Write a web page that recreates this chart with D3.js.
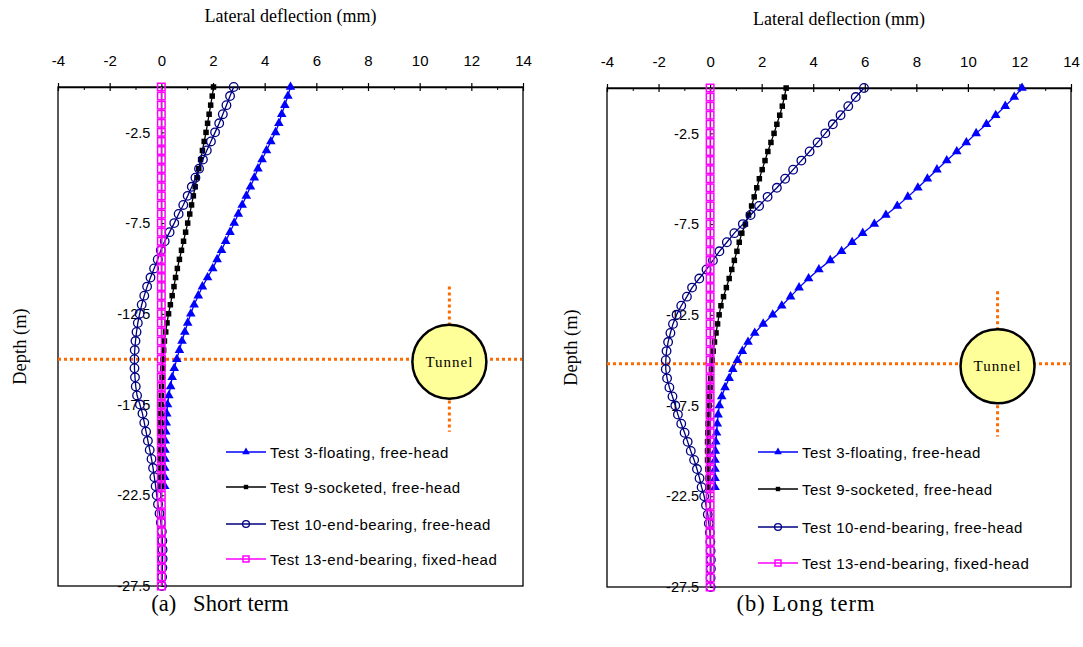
<!DOCTYPE html>
<html>
<head>
<meta charset="utf-8">
<script src="https://cdn.jsdelivr.net/npm/d3@7/dist/d3.min.js"></script>
<style>
  body { margin: 0; background: #fff; }
  svg { display: block; }
</style>
</head>
<body>
<svg id="chart" width="1083" height="647"></svg>
<script>
// depth of each reading (m), every 0.5 m down the pile
const depths = [0, -0.5, -1, -1.5, -2, -2.5, -3, -3.5, -4, -4.5, -5, -5.5, -6, -6.5, -7, -7.5,
  -8, -8.5, -9, -9.5, -10, -10.5, -11, -11.5, -12, -12.5, -13, -13.5, -14, -14.5, -15, -15.5,
  -16, -16.5, -17, -17.5, -18, -18.5, -19, -19.5, -20, -20.5, -21, -21.5, -22, -22.5, -23, -23.5,
  -24, -24.5, -25, -25.5, -26, -26.5, -27, -27.5];

const xTicks = [-4, -2, 0, 2, 4, 6, 8, 10, 12, 14];
const xMinorTicks = [-3, -1, 1, 3, 5, 7, 9, 11, 13];
const yTicks = [-2.5, -7.5, -12.5, -17.5, -22.5, -27.5];

const seriesNames = [
  "Test 3-floating, free-head",
  "Test 9-socketed, free-head",
  "Test 10-end-bearing, free-head",
  "Test 13-end-bearing, fixed-head"
];

// (a) short term, lateral deflection (mm)
const shortTest3 = [5.00, 4.90, 4.78, 4.66, 4.55, 4.42, 4.24, 4.07, 3.90, 3.74,
  3.60, 3.45, 3.29, 3.13, 2.98, 2.82, 2.66, 2.49, 2.33, 2.16,
  1.99, 1.79, 1.59, 1.43, 1.27, 1.14, 1.02, 0.91, 0.80, 0.70,
  0.60, 0.50, 0.42, 0.36, 0.29, 0.24, 0.21, 0.19, 0.17, 0.15,
  0.14, 0.14, 0.13, 0.13, 0.13];
const shortTest9 = [2.02, 1.97, 1.91, 1.85, 1.79, 1.73, 1.66, 1.59, 1.52, 1.45,
  1.38, 1.31, 1.24, 1.17, 1.10, 1.02, 0.94, 0.86, 0.78, 0.70,
  0.62, 0.55, 0.49, 0.42, 0.35, 0.28, 0.22, 0.17, 0.12, 0.09,
  0.07, 0.05, 0.03, 0.01, 0.00, -0.01, -0.02, -0.02, -0.03, -0.03,
  -0.03, -0.03, -0.02, -0.02, -0.02];
const shortTest10 = [2.80, 2.66, 2.52, 2.38, 2.24, 2.08, 1.92, 1.76, 1.61, 1.46,
  1.32, 1.18, 1.02, 0.85, 0.67, 0.50, 0.32, 0.13, -0.02, -0.14,
  -0.28, -0.42, -0.55, -0.66, -0.76, -0.84, -0.91, -0.96, -1.00, -1.03,
  -1.04, -1.04, -1.02, -0.99, -0.94, -0.83, -0.73, -0.66, -0.59, -0.52,
  -0.45, -0.38, -0.32, -0.27, -0.22, -0.18, -0.13, -0.07, -0.02, 0.02,
  0.04, 0.05, 0.05, 0.04, 0.03, 0.02];
const shortTest13 = [0, 0, 0, 0, 0, 0, 0, 0, 0, 0, 0, 0, 0, 0, 0, 0, 0, 0, 0, 0,
  0, 0, 0, 0, 0, 0, 0, 0, 0, 0, 0, 0, 0, 0, 0, 0, 0, 0, 0, 0,
  0, 0, 0, 0, 0, 0, 0, 0, 0, 0, 0, 0, 0, 0, 0, 0];

// (b) long term
const longTest3 = [12.10, 11.80, 11.45, 11.08, 10.72, 10.32, 9.94, 9.57, 9.18, 8.80,
  8.43, 8.06, 7.67, 7.26, 6.82, 6.37, 5.92, 5.51, 5.10, 4.66,
  4.22, 3.82, 3.45, 3.12, 2.78, 2.43, 2.06, 1.73, 1.47, 1.25,
  1.06, 0.88, 0.74, 0.58, 0.45, 0.36, 0.31, 0.28, 0.25, 0.22,
  0.20, 0.19, 0.19, 0.19, 0.19];
const longTest9 = [2.95, 2.88, 2.80, 2.70, 2.59, 2.48, 2.36, 2.24, 2.13, 2.02,
  1.91, 1.81, 1.71, 1.61, 1.49, 1.37, 1.23, 1.13, 1.04, 0.94,
  0.84, 0.74, 0.63, 0.52, 0.42, 0.35, 0.29, 0.23, 0.17, 0.12,
  0.08, 0.05, 0.02, 0.00, -0.02, -0.04, -0.06, -0.08, -0.09, -0.10,
  -0.10, -0.10, -0.09, -0.08, -0.07];
const longTest10 = [5.97, 5.65, 5.36, 5.06, 4.76, 4.47, 4.17, 3.86, 3.54, 3.22,
  2.91, 2.59, 2.23, 1.90, 1.57, 1.27, 0.94, 0.65, 0.36, 0.11,
  -0.14, -0.42, -0.70, -0.90, -1.12, -1.30, -1.44, -1.54, -1.63, -1.69,
  -1.72, -1.72, -1.67, -1.58, -1.46, -1.35, -1.25, -1.12, -0.99, -0.87,
  -0.75, -0.62, -0.51, -0.41, -0.33, -0.23, -0.16, -0.09, -0.05, -0.01,
  0.01, 0.02, 0.03, 0.03, 0.02, 0.02];
const longTest13 = [0, 0, 0, 0, 0, 0, 0, 0, 0, 0, 0, 0, 0, 0, 0, 0, 0, 0, 0, 0,
  0, 0, 0, 0, 0, 0, 0, 0, 0, 0, 0, 0, 0, 0, 0, 0, 0, 0, 0, 0,
  0, 0, 0, 0, 0, 0, 0, 0, 0, 0, 0, 0, 0, 0, 0, 0];

// tunnel position (deflection axis units, depth m)
const tunnelX = [11.15, 11.15];
const tunnelDepth = [-15, -15.2];

const captions = ["(a)   Short term", "(b) Long term"];

const styles = [
  { color: "#0000ff", marker: "triangle" },
  { color: "#000000", marker: "square" },
  { color: "#000080", marker: "circle" },
  { color: "#ff00ff", marker: "openSquare" }
];

const panels = [
  { left: 58, right: 523, top: 87, bottom: 586, titleY: 22, depthX: 26, captionX: 220, capSpacing: 0,
    legendX: 226, legendY: [452, 487, 524, 559],
    series: [shortTest3, shortTest9, shortTest10, shortTest13] },
  { left: 607, right: 1071, top: 88, bottom: 587, titleY: 25, depthX: 577, captionX: 806, capSpacing: 1,
    legendX: 758, legendY: [452, 489, 527, 563],
    series: [longTest3, longTest9, longTest10, longTest13] }
];

const svg = d3.select("#chart");
const sans = "Arial, 'Liberation Sans', sans-serif";
const serif = "'Times New Roman', 'Liberation Serif', serif";

panels.forEach((p, i) => drawPanel(p, i));

function drawMarker(g, kind, color, cx, cy, scale) {
  if (kind === "triangle") {
    g.append("path")
      .attr("d", d3.symbol(d3.symbolTriangle, 40 * scale * scale)())
      .attr("transform", `translate(${cx},${cy})`)
      .attr("fill", color);
  } else if (kind === "square") {
    const s = 5.5 * scale;
    g.append("rect").attr("x", cx - s / 2).attr("y", cy - s / 2)
      .attr("width", s).attr("height", s).attr("fill", color);
  } else if (kind === "circle") {
    g.append("circle").attr("cx", cx).attr("cy", cy).attr("r", 4.3 * scale)
      .attr("fill", "none").attr("stroke", color).attr("stroke-width", 1.3);
  } else {
    const s = 7.5 * scale;
    g.append("rect").attr("x", cx - s / 2).attr("y", cy - s / 2)
      .attr("width", s).attr("height", s)
      .attr("fill", "none").attr("stroke", color).attr("stroke-width", 1.5);
  }
}

function drawPanel(p, idx) {
  const x = d3.scaleLinear().domain([-4, 14]).range([p.left, p.right]);
  const y = d3.scaleLinear().domain([0, -27.5]).range([p.top, p.bottom]);
  const g = svg.append("g");

  // plot border
  g.append("rect")
    .attr("x", p.left).attr("y", p.top)
    .attr("width", p.right - p.left).attr("height", p.bottom - p.top)
    .attr("fill", "none").attr("stroke", "#000").attr("stroke-width", 1.3);

  // tunnel guide lines
  const ty = y(tunnelDepth[idx]);
  const tx = x(tunnelX[idx]);
  const orange = "#ff6a00";
  g.append("line")
    .attr("x1", p.left).attr("x2", p.right - 1)
    .attr("y1", ty).attr("y2", ty)
    .attr("stroke", orange).attr("stroke-width", 3).attr("stroke-dasharray", "3,3");
  g.append("line")
    .attr("x1", tx).attr("x2", tx)
    .attr("y1", y(tunnelDepth[idx] + 4)).attr("y2", y(tunnelDepth[idx] - 4))
    .attr("stroke", orange).attr("stroke-width", 3).attr("stroke-dasharray", "3,3");
  g.append("circle")
    .attr("cx", tx).attr("cy", ty + 2.5).attr("r", 37)
    .attr("fill", "#ffff99").attr("stroke", "#000").attr("stroke-width", 2.5);
  g.append("text")
    .attr("x", tx).attr("y", ty + 2.5)
    .attr("text-anchor", "middle").attr("dominant-baseline", "central")
    .style("font-family", serif).style("font-size", "15px").style("letter-spacing", "1px")
    .text("Tunnel");

  // top x axis
  const xAxis = g.append("g")
    .attr("transform", `translate(0,${p.top})`)
    .call(d3.axisTop(x).tickValues(xTicks).tickSize(4).tickPadding(17).tickSizeOuter(0)
      .tickFormat(d => String(d)));
  xAxis.select(".domain").attr("stroke-width", 1.6);
  xAxis.selectAll(".tick line").attr("y2", 4).attr("y1", -4).attr("stroke-width", 1.2);
  xAxis.selectAll(".tick text")
    .style("font-family", sans).style("font-size", "15px").attr("fill", "#000");
  g.append("g")
    .attr("transform", `translate(0,${p.top})`)
    .call(d3.axisBottom(x).tickValues(xMinorTicks).tickSize(3).tickFormat(""))
    .select(".domain").remove();

  // y axis crossing at x = 0
  const yAxis = g.append("g")
    .attr("transform", `translate(${x(0)},0)`)
    .call(d3.axisLeft(y).tickValues(yTicks).tickSize(3).tickPadding(8).tickSizeOuter(0)
      .tickFormat(d => d.toFixed(1)));
  yAxis.selectAll(".tick line").attr("x2", 3);
  yAxis.selectAll(".tick text")
    .style("font-family", sans).style("font-size", "14.5px").attr("fill", "#000");

  // series
  const line = d3.line().x(d => x(d[0])).y(d => y(d[1]));
  p.series.forEach((vals, s) => {
    const pts = vals.map((v, k) => [v, depths[k]]);
    const st = styles[s];
    const sg = g.append("g");
    sg.append("path")
      .attr("d", line(pts))
      .attr("fill", "none").attr("stroke", st.color).attr("stroke-width", 1.3);
    pts.forEach(d => drawMarker(sg, st.marker, st.color, x(d[0]), y(d[1]), 1));
  });

  // legend
  const lg = g.append("g");
  seriesNames.forEach((name, s) => {
    const ly = p.legendY[s];
    lg.append("line")
      .attr("x1", p.legendX).attr("x2", p.legendX + 40)
      .attr("y1", ly).attr("y2", ly)
      .attr("stroke", styles[s].color).attr("stroke-width", 1.5);
    drawMarker(lg, styles[s].marker, styles[s].color, p.legendX + 20, ly, 0.8);
    lg.append("text")
      .attr("x", p.legendX + 44).attr("y", ly)
      .attr("dominant-baseline", "central")
      .style("font-family", sans).style("font-size", "15px").style("letter-spacing", "0.5px")
      .text(name);
  });

  // titles
  const cx = (p.left + p.right) / 2;
  svg.append("text")
    .attr("x", cx).attr("y", p.titleY)
    .attr("text-anchor", "middle")
    .style("font-family", serif).style("font-size", "18px")
    .text("Lateral deflection (mm)");
  svg.append("text")
    .attr("transform", `translate(${p.depthX},${(p.top + p.bottom) / 2 + 10}) rotate(-90)`)
    .attr("text-anchor", "middle")
    .style("font-family", serif).style("font-size", "18.5px")
    .text("Depth (m)");
  svg.append("text")
    .attr("x", p.captionX).attr("y", 611)
    .attr("text-anchor", "middle")
    .attr("xml:space", "preserve").style("white-space", "pre")
    .style("font-family", serif).style("font-size", "22.5px")
    .style("letter-spacing", p.capSpacing + "px")
    .text(captions[idx]);
}
</script>
</body>
</html>
